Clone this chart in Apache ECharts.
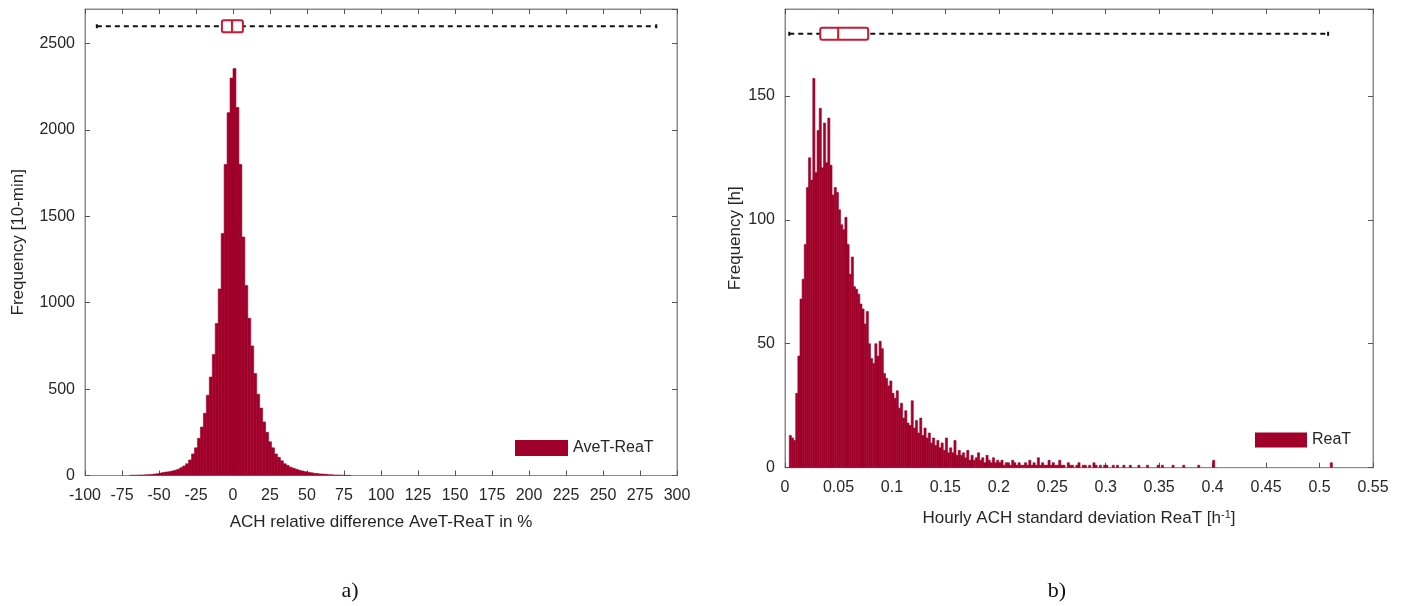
<!DOCTYPE html>
<html>
<head>
<meta charset="utf-8">
<script src="https://cdn.jsdelivr.net/npm/echarts@6/dist/echarts.min.js"></script>
<style>
  html, body { margin: 0; padding: 0; background: #fff; }
  #main { width: 1406px; height: 606px; }
</style>
</head>
<body>
<div id="main"></div>
<script>
// a) relative difference AveT-ReaT, bins of 2 % starting at -70 %
var leftBinStart = -70;
var leftBinWidth = 2;
var leftCounts = [
  1, 2, 2, 3, 3, 4, 5, 6, 8, 10,
  14, 17, 20, 22, 26, 30, 36, 45, 55, 68,
  90, 125, 160, 215, 280, 360, 465, 570, 700, 880,
  1080, 1400, 1800, 2100, 2300, 2355, 2130, 1800, 1380, 1100,
  910, 750, 590, 470, 390, 310, 250, 195, 160, 125,
  105, 85, 68, 58, 48, 42, 36, 30, 26, 22,
  19, 16, 13, 11, 9, 8, 7, 5, 4, 3,
  3, 2, 2, 1, 1
];
// boxplot on top: [min, q1, median, q3, max]
var leftBox = [-92, -7.5, -0.7, 6.7, 286];
var leftBoxLevel = 2600;

// b) hourly ACH standard deviation ReaT, bins of 0.002 starting at 0.004
var rightBinStart = 0.004;
var rightBinWidth = 0.002;
var rightCounts = [
  13, 12, 11, 30, 45, 68, 76, 90, 113, 125,
  116, 157, 119, 136, 145, 121, 139, 123, 141, 122,
  110, 113, 111, 104, 98, 96, 101, 90, 78, 85,
  73, 72, 70, 66, 64, 58, 63, 50, 44, 42,
  50, 45, 51, 48, 38, 36, 33, 35, 30, 28,
  31, 24, 26, 20, 23, 18, 17, 27, 16, 19,
  14, 20, 13, 16, 12, 14, 10, 12, 9, 11,
  8, 10, 7, 12, 6, 8, 6, 11, 5, 7,
  5, 6, 4, 7, 3, 5, 3, 4, 6, 3,
  4, 2, 5, 3, 2, 4, 2, 3,
  2, 3, 1, 2, 2, 1, 3, 2, 1, 2, 1, 1, 2, 1, 3, 1, 2, 1, 4, 1, 2, 1, 1, 3, 1, 2, 1, 1, 3, 1,
  1, 0, 2, 1, 1, 0, 1, 2, 0, 1, 1, 0, 1, 0, 2, 1, 0, 1, 0, 1, 1, 0, 0, 1, 0, 1, 0, 0, 1, 0,
  0, 1, 0, 0, 0, 1, 0, 0, 0, 1, 0, 0, 0, 0, 1, 0, 1, 0, 0, 0, 0, 1, 0, 0, 0, 0, 1, 0, 0, 0,
  0, 0, 0, 1, 0, 0, 0, 0, 0, 0, 3, 0, 0, 0, 0, 0, 0, 0, 0, 0, 0, 0, 0, 0, 0, 0, 0, 0, 0, 0,
  0, 0, 0, 0, 0, 0, 0, 0, 0, 0, 0, 0, 0, 0, 0, 0, 0, 0, 0, 0, 0, 0, 0, 0, 0, 0, 0, 0, 0, 0,
  0, 0, 0, 0, 0, 2
];
var rightBox = [0.004, 0.033, 0.0497, 0.0778, 0.508];
var rightBoxLevel = 175;

var barColor = '#A0002A';
var axisColor = '#8a8a8a';
var textColor = '#262626';
var font = 'Liberation Sans';

function binData(start, width, counts) {
  return counts.map(function (c, i) {
    return [start + i * width, start + (i + 1) * width, c];
  });
}

function histItem(params, api) {
  var v = api.value(2);
  if (!v) return null;
  var p0 = api.coord([api.value(0), v]);
  var p1 = api.coord([api.value(1), 0]);
  return {
    type: 'rect',
    shape: { x: p0[0], y: p0[1], width: p1[0] - p0[0], height: p1[1] - p0[1] },
    style: { fill: barColor, stroke: barColor, lineWidth: 0.6 }
  };
}

function boxItem(params, api) {
  var y = api.value(5);
  var pMin = api.coord([api.value(0), y]);
  var pQ1 = api.coord([api.value(1), y]);
  var pMed = api.coord([api.value(2), y]);
  var pQ3 = api.coord([api.value(3), y]);
  var pMax = api.coord([api.value(4), y]);
  var h = 6;
  return {
    type: 'group',
    children: [
      { type: 'line', shape: { x1: pMin[0], y1: pMin[1], x2: pMax[0], y2: pMax[1] },
        style: { stroke: '#111', lineWidth: 2, lineDash: [5, 4] } },
      { type: 'line', shape: { x1: pMin[0], y1: pMin[1] - 2, x2: pMin[0], y2: pMin[1] + 2 },
        style: { stroke: '#111', lineWidth: 2 } },
      { type: 'line', shape: { x1: pMax[0], y1: pMax[1] - 2, x2: pMax[0], y2: pMax[1] + 2 },
        style: { stroke: '#111', lineWidth: 2 } },
      { type: 'rect', shape: { x: pQ1[0], y: pQ1[1] - h, width: pQ3[0] - pQ1[0], height: 2 * h, r: 2 },
        style: { fill: '#fff', stroke: '#c41a36', lineWidth: 2 } },
      { type: 'line', shape: { x1: pMed[0], y1: pMed[1] - h, x2: pMed[0], y2: pMed[1] + h },
        style: { stroke: '#e8101c', lineWidth: 2 } }
    ]
  };
}

function xAxisBase(grid, min, max, interval, pos) {
  return {
    type: 'value', gridIndex: grid, position: pos, min: min, max: max, interval: interval,
    axisLine: { show: true, onZero: false, lineStyle: { color: axisColor, width: 1 } },
    axisTick: { show: true, inside: true, length: 5, lineStyle: { color: '#555' } },
    axisLabel: { show: pos === 'bottom', margin: 12, color: textColor, fontSize: 16, fontFamily: font,
                 showMinLabel: true, showMaxLabel: true },
    splitLine: { show: false }
  };
}

function yAxisBase(grid, min, max, interval, pos) {
  return {
    type: 'value', gridIndex: grid, position: pos, min: min, max: max, interval: interval,
    axisLine: { show: true, onZero: false, lineStyle: { color: axisColor, width: 1 } },
    axisTick: { show: true, inside: true, length: 5, lineStyle: { color: '#555' } },
    axisLabel: { show: pos === 'left', margin: 10, color: textColor, fontSize: 16, fontFamily: font,
                 showMaxLabel: false, formatter: function (v) { return String(v); } },
    splitLine: { show: false }
  };
}

var xa0 = xAxisBase(0, -100, 300, 25, 'bottom');
xa0.name = 'ACH relative difference AveT-ReaT in %';
xa0.nameLocation = 'middle';
xa0.nameGap = 38;
xa0.nameTextStyle = { fontSize: 17, color: textColor, fontFamily: font };

var xa2 = xAxisBase(1, 0, 0.55, 0.05, 'bottom');
xa2.name = 'Hourly ACH standard deviation ReaT [h{sup|-1}]';
xa2.nameLocation = 'middle';
xa2.nameGap = 42;
xa2.nameTextStyle = { fontSize: 17, color: textColor, fontFamily: font,
  rich: { sup: { fontSize: 11, color: textColor, fontFamily: font, verticalAlign: 'top' } } };

var ya0 = yAxisBase(0, 0, 2700, 500, 'left');
ya0.name = 'Frequency [10-min]';
ya0.nameLocation = 'middle';
ya0.nameGap = 58;
ya0.nameTextStyle = { fontSize: 17, color: textColor, fontFamily: font };

var ya2 = yAxisBase(1, 0, 185, 50, 'left');
ya2.name = 'Frequency [h]';
ya2.nameLocation = 'middle';
ya2.nameGap = 41;
ya2.nameTextStyle = { fontSize: 17, color: textColor, fontFamily: font };

var chart = echarts.init(document.getElementById('main'), null, { renderer: 'canvas' });
var option = {
  animation: false,
  backgroundColor: '#fff',
  textStyle: { fontFamily: font },
  grid: [
    { left: 85, width: 592, top: 9, height: 466.5, show: true, borderColor: axisColor, borderWidth: 1,
      containLabel: false, outerBoundsMode: 'none' },
    { left: 785, width: 588, top: 9, height: 458.7, show: true, borderColor: axisColor, borderWidth: 1,
      containLabel: false, outerBoundsMode: 'none' }
  ],
  xAxis: [xa0, xAxisBase(0, -100, 300, 25, 'top'), xa2, xAxisBase(1, 0, 0.55, 0.05, 'top')],
  yAxis: [ya0, yAxisBase(0, 0, 2700, 500, 'right'), ya2, yAxisBase(1, 0, 185, 50, 'right')],
  legend: [
    { data: [{ name: 'AveT-ReaT', icon: 'rect' }], left: 515, top: 440, padding: 0,
      itemWidth: 53, itemHeight: 16, itemGap: 5,
      textStyle: { fontSize: 16, color: textColor, fontFamily: font } },
    { data: [{ name: 'ReaT', icon: 'rect' }], left: 1255, top: 432, padding: 0,
      itemWidth: 52, itemHeight: 15, itemGap: 5,
      textStyle: { fontSize: 16, color: textColor, fontFamily: font } }
  ],
  graphic: [
    { type: 'text', x: 350, y: 591, style: { text: 'a)', textAlign: 'center', textVerticalAlign: 'middle',
      font: '22px "Liberation Serif"', fill: '#111' } },
    { type: 'text', x: 1057, y: 591, style: { text: 'b)', textAlign: 'center', textVerticalAlign: 'middle',
      font: '22px "Liberation Serif"', fill: '#111' } }
  ],
  series: [
    { name: 'AveT-ReaT', type: 'custom', xAxisIndex: 0, yAxisIndex: 0, clip: true,
      itemStyle: { color: barColor }, renderItem: histItem,
      encode: { x: [0, 1], y: 2 },
      data: binData(leftBinStart, leftBinWidth, leftCounts) },
    { name: 'leftBox', type: 'custom', xAxisIndex: 0, yAxisIndex: 0, renderItem: boxItem,
      encode: { x: [0, 4], y: 5 }, z: 5,
      data: [leftBox.concat([leftBoxLevel])] },
    { name: 'ReaT', type: 'custom', xAxisIndex: 2, yAxisIndex: 2, clip: true,
      itemStyle: { color: barColor }, renderItem: histItem,
      encode: { x: [0, 1], y: 2 },
      data: binData(rightBinStart, rightBinWidth, rightCounts) },
    { name: 'rightBox', type: 'custom', xAxisIndex: 2, yAxisIndex: 2, renderItem: boxItem,
      encode: { x: [0, 4], y: 5 }, z: 5,
      data: [rightBox.concat([rightBoxLevel])] }
  ]
};
chart.setOption(option);
</script>
</body>
</html>
